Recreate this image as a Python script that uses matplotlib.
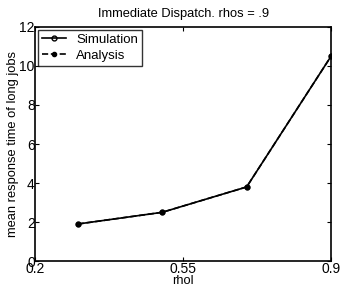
import matplotlib
matplotlib.use("Agg")
import matplotlib.pyplot as plt

plt.rcParams['font.family'] = ['Liberation Sans', 'DejaVu Sans']

rhol = [0.3, 0.5, 0.7, 0.9]
sim = [1.9, 2.5, 3.8, 10.5]
ana = [1.9, 2.5, 3.8, 10.5]

fig = plt.figure(figsize=(3.41, 2.86), dpi=100)
ax = fig.add_axes([0.104, 0.087, 0.867, 0.819])

ax.plot(rhol, sim, '-o', color='black', lw=1.2, ms=3.5, mfc='none', mew=1, label='Simulation')
ax.plot(rhol, ana, '--o', color='black', lw=1.2, ms=3, mfc='black', label='Analysis')

ax.set_xlim(0.2, 0.9)
ax.set_ylim(0, 12)
ax.set_xticks([0.2, 0.55, 0.9])
ax.set_xticklabels(['0.2', '0.55', '0.9'])
ax.set_yticks(range(0, 13, 2))
ax.tick_params(direction='in', top=True, right=True, labelsize=10, length=3, pad=0.5)
for s in ax.spines.values():
    s.set_linewidth(1.2)

ax.set_title('Immediate Dispatch. rhos = .9', fontsize=9.3, pad=7)
ax.set_xlabel('rhol', fontsize=9.3, labelpad=-0.5)
ax.set_ylabel('mean response time of long jobs', fontsize=9.3, labelpad=0)

leg = ax.legend(loc='upper left', fontsize=9.5, frameon=True, fancybox=False,
                edgecolor='black', borderpad=0.3, handlelength=1.8,
                borderaxespad=0.2, labelspacing=0.3, handletextpad=0.8)
leg.get_frame().set_linewidth(1)

fig.savefig('out.png', dpi=100)
